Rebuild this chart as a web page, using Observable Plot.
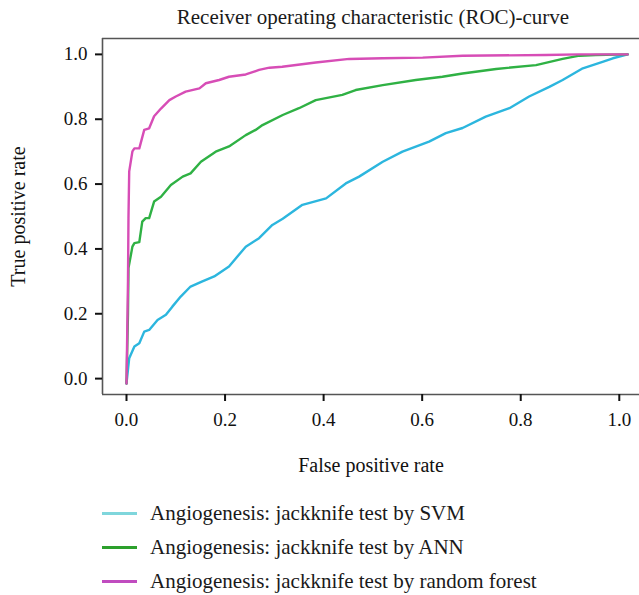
<!DOCTYPE html>
<html>
<head>
<meta charset="utf-8">
<script src="https://cdn.jsdelivr.net/npm/d3@7"></script>
<script src="https://cdn.jsdelivr.net/npm/@observablehq/plot@0.6"></script>
<style>
  html, body { margin: 0; padding: 0; background: #fff; }
  body { width: 639px; font-family: "Liberation Serif", "DejaVu Serif", serif; color: #222; }
  #title { height: 30px; line-height: 34px; font-size: 21px; text-align: center; width: 639px; padding-left: 107px; box-sizing: border-box; white-space: nowrap; color: #1a1a1a; }
  #legend { position: relative; height: 115px; }
  .row { position: absolute; left: 0; height: 34px; width: 639px; }
  .sw { position: absolute; left: 102px; width: 35px; height: 2.5px; top: 16px; }
  .lab { position: absolute; left: 150px; top: 0; line-height: 34px; font-size: 21px; white-space: nowrap; color: #1a1a1a; }
  svg text { font-family: "Liberation Serif", "DejaVu Serif", serif; }
</style>
</head>
<body>
<div id="title"></div>
<div id="chart"></div>
<div id="legend"></div>
<script>
const titleText = "Receiver operating characteristic (ROC)-curve";
const xLabel = "False positive rate";
const yLabel = "True positive rate";
const seriesNames = [
  "Angiogenesis: jackknife test by SVM",
  "Angiogenesis: jackknife test by ANN",
  "Angiogenesis: jackknife test by random forest"
];
const curveColors = ["#2cb6de", "#2fb144", "#d74db6"];
const legendColors = ["#7fd6dc", "#2ca02c", "#c04cbf"];
const xTicks = [0, 0.2, 0.4, 0.6, 0.8, 1.0];
const yTicks = [0, 0.2, 0.4, 0.6, 0.8, 1.0];
const xDomain = [-0.0487, 1.041];
const yDomain = [-0.049, 1.049];

const svmFpr = [0, 0.0055, 0.016, 0.026, 0.036, 0.046, 0.063, 0.080, 0.093, 0.110, 0.130, 0.154, 0.178, 0.208, 0.242, 0.269, 0.296, 0.317, 0.357, 0.405, 0.445, 0.472, 0.520, 0.560, 0.614, 0.648, 0.682, 0.729, 0.777, 0.817, 0.858, 0.885, 0.926, 0.966, 0.987, 1.017];
const svmTpr = [-0.015, 0.063, 0.099, 0.109, 0.145, 0.150, 0.181, 0.197, 0.222, 0.253, 0.284, 0.300, 0.315, 0.346, 0.407, 0.433, 0.474, 0.493, 0.536, 0.556, 0.602, 0.623, 0.669, 0.700, 0.731, 0.757, 0.773, 0.808, 0.834, 0.870, 0.900, 0.921, 0.957, 0.977, 0.988, 1.0];

const annFpr = [0, 0.003, 0.004, 0.012, 0.016, 0.026, 0.032, 0.039, 0.046, 0.056, 0.070, 0.090, 0.114, 0.130, 0.151, 0.181, 0.208, 0.242, 0.262, 0.276, 0.317, 0.350, 0.384, 0.438, 0.465, 0.520, 0.587, 0.641, 0.682, 0.750, 0.831, 0.885, 0.919, 0.952, 1.017];
const annTpr = [-0.015, 0.20, 0.341, 0.407, 0.418, 0.421, 0.484, 0.495, 0.495, 0.546, 0.561, 0.597, 0.623, 0.633, 0.669, 0.700, 0.716, 0.751, 0.767, 0.782, 0.813, 0.834, 0.859, 0.875, 0.890, 0.905, 0.921, 0.931, 0.941, 0.955, 0.967, 0.986, 0.996, 0.998, 1.0];

const rfFpr = [0, 0.003, 0.004, 0.0055, 0.012, 0.016, 0.026, 0.036, 0.046, 0.056, 0.070, 0.087, 0.100, 0.120, 0.148, 0.161, 0.188, 0.208, 0.242, 0.269, 0.290, 0.316, 0.384, 0.452, 0.520, 0.601, 0.682, 0.851, 0.919, 1.017];
const rfTpr = [-0.015, 0.30, 0.495, 0.639, 0.701, 0.710, 0.710, 0.767, 0.772, 0.809, 0.833, 0.859, 0.870, 0.885, 0.895, 0.911, 0.921, 0.931, 0.938, 0.952, 0.959, 0.962, 0.975, 0.986, 0.988, 0.990, 0.996, 0.998, 1.0, 1.0];

const fprs = [svmFpr, annFpr, rfFpr];
const tprs = [svmTpr, annTpr, rfTpr];
const rows = [];
seriesNames.forEach((s, i) => fprs[i].forEach((x, j) => rows.push({series: s, x, y: tprs[i][j]})));

document.getElementById("title").textContent = titleText;

const fontFamily = '"Liberation Serif", "DejaVu Serif", serif';
const fmt = d3.format(".1f");
const chart = Plot.plot({
  width: 639,
  height: 450,
  marginLeft: 102,
  marginRight: 0,
  marginTop: 8,
  marginBottom: 86,
  style: {fontFamily, fontSize: "19px", color: "#111", background: "#fff", overflow: "visible"},
  x: {domain: xDomain},
  y: {domain: yDomain},
  color: {domain: seriesNames, range: curveColors},
  marks: [
    Plot.line(rows, {x: "x", y: "y", z: "series", stroke: "series", strokeWidth: 2.4, curve: "linear"}),
    Plot.ruleX([xDomain[0]], {stroke: "#555", strokeWidth: 1.6}),
    Plot.ruleY([yDomain[0], yDomain[1]], {stroke: "#555", strokeWidth: 1.6}),
    Plot.axisX({ticks: xTicks, tickFormat: () => "", tickSize: 7, strokeWidth: 2, stroke: "#111", label: null}),
    Plot.axisY({ticks: yTicks, tickFormat: () => "", tickSize: 7, strokeWidth: 2, stroke: "#111", label: null}),
    Plot.text(xTicks, {x: d => d, frameAnchor: "bottom", dy: 25, lineAnchor: "middle", textAnchor: "middle", text: fmt, fontSize: 19, fontFamily, fill: "#111"}),
    Plot.text(yTicks, {y: d => d, frameAnchor: "left", dx: -15, lineAnchor: "middle", textAnchor: "end", text: fmt, fontSize: 19, fontFamily, fill: "#111"}),
    Plot.text([xLabel], {frameAnchor: "bottom", dy: 71, lineAnchor: "middle", textAnchor: "middle", text: d => d, fontSize: 20, fontFamily, fill: "#111"}),
    Plot.text([yLabel], {frameAnchor: "left", dx: -84, rotate: -90, lineAnchor: "middle", textAnchor: "middle", text: d => d, fontSize: 20, fontFamily, fill: "#111"})
  ]
});
document.getElementById("chart").appendChild(chart);

const legend = document.getElementById("legend");
seriesNames.forEach((s, i) => {
  const row = document.createElement("div");
  row.className = "row";
  row.style.top = (16 + i * 34) + "px";
  const sw = document.createElement("div");
  sw.className = "sw";
  sw.style.background = legendColors[i];
  const lab = document.createElement("div");
  lab.className = "lab";
  lab.textContent = s;
  row.appendChild(sw);
  row.appendChild(lab);
  legend.appendChild(row);
});
</script>
</body>
</html>
